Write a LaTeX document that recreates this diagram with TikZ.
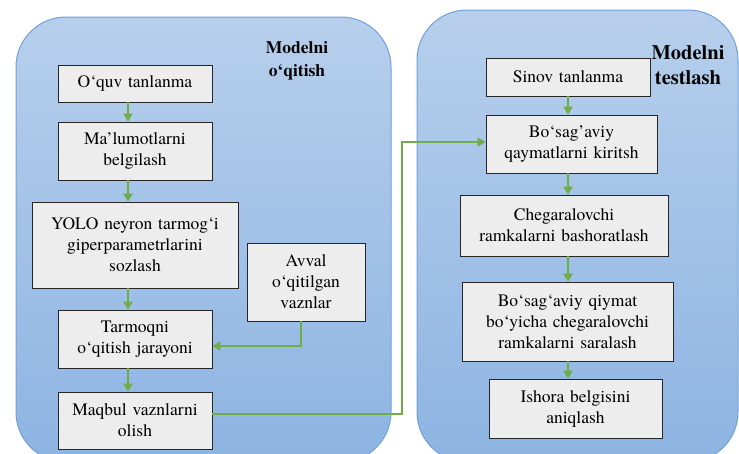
\documentclass[tikz,border=0pt]{standalone}
\usepackage{fontspec}
\setmainfont{TeX Gyre Termes}
\usetikzlibrary{arrows.meta}

\definecolor{panelTop}{RGB}{183,207,236}
\definecolor{panelBot}{RGB}{141,180,226}
\definecolor{panelLine}{RGB}{112,160,219}
\definecolor{flowGreen}{RGB}{112,173,71}
\definecolor{boxFill}{RGB}{237,237,237}

\begin{document}
\begin{tikzpicture}[x=1pt,y=-1pt,
    panel/.style={draw=panelLine, line width=1pt, rounded corners=50pt, top color=panelTop, bottom color=panelBot},
    box/.style={draw=black!85, fill=boxFill, line width=0.8pt, align=center, inner sep=0pt, font=\fontsize{17.5}{21}\selectfont},
    title/.style={align=center, font=\fontsize{17.5}{22.5}\selectfont\bfseries},
    flow/.style={draw=flowGreen, line width=2pt, -{Triangle[length=8pt,width=9pt]}}]

    % Fix the page size
    \useasboundingbox (0,0) rectangle (739,453);

    % Draw the two rounded background panels
    \path[panel] (16,17) rectangle (391,462);
    \path[panel] (417,10) rectangle (738,462);

    % Add panel titles
    \node[title] (titleTrain) at (297,61) {Modelni\\o‘qitish};
    \node[title, font=\fontsize{20.5}{25}\selectfont\bfseries] (titleTest) at (688,65.5) {Modelni\\testlash};

    % Boxes of the training panel
    \node[box, minimum width=154, minimum height=37, text width=146] (quv) at (135,83.5) {O‘quv tanlanma};
    \node[box, minimum width=154, minimum height=58, text width=146] (belgi) at (135,151) {Ma’lumotlarni\\belgilash};
    \node[box, minimum width=206, minimum height=86, text width=198] (yolo) at (135,245) {YOLO neyron tarmog‘i\\giperparametrlarini\\sozlash};
    \node[box, minimum width=118, minimum height=78, text width=110] (avval) at (306,282) {Avval\\o‘qitilgan\\vaznlar};
    \node[box, minimum width=154, minimum height=58, text width=146] (tarmoq) at (135,339) {Tarmoqni\\o‘qitish jarayoni};
    \node[box, minimum width=154, minimum height=57, text width=146] (maqbul) at (135,420.5) {Maqbul vaznlarni\\olish};

    % Boxes of the testing panel
    \node[box, minimum width=164, minimum height=38, text width=156] (sinov) at (568,77) {Sinov tanlanma};
    \node[box, minimum width=171, minimum height=58, text width=163] (kirit) at (571.5,144) {Bo‘sag’aviy\\qaymatlarni kiritsh};
    \node[box, minimum width=208, minimum height=61, text width=200] (bashorat) at (564,225.5) {Chegaralovchi\\ramkalarni bashoratlash};
    \node[box, minimum width=211, minimum height=79, text width=203] (saralash) at (567.5,321.5) {Bo‘sag‘aviy qiymat\\bo‘yicha chegaralovchi\\ramkalarni saralash};
    \node[box, minimum width=173, minimum height=59, text width=165] (ishora) at (575.5,408.5) {Ishora belgisini\\aniqlash};

    % Arrows inside the training panel
    \draw[flow] ([xshift=-7pt]quv.south) -- ([xshift=-7pt]belgi.north);
    \draw[flow] ([xshift=-7pt]belgi.south) -- ([xshift=-7pt]yolo.north);
    \draw[flow] ([xshift=-7pt]yolo.south) -- ([xshift=-7pt]tarmoq.north);
    \draw[flow] ([xshift=-7pt]tarmoq.south) -- ([xshift=-7pt]maqbul.north);

    % Pretrained weights go into training
    \coordinate (bendW) at (301,346);
    \draw[flow] (avval.south -| bendW) -- (bendW) -- (bendW -| tarmoq.east);

    % Arrows inside the testing panel
    \draw[flow] (sinov.south) -- (sinov.south |- kirit.north);
    \draw[flow] (sinov.south |- kirit.south) -- (sinov.south |- bashorat.north);
    \draw[flow] (sinov.south |- bashorat.south) -- (sinov.south |- saralash.north);
    \draw[flow] (sinov.south |- saralash.south) -- (sinov.south |- ishora.north);

    % Best weights passed over to testing
    \coordinate (linkLow) at (402,414);
    \coordinate (linkHigh) at (402,142);
    \draw[flow] (maqbul.east |- linkLow) -- (linkLow) -- (linkHigh) -- (linkHigh -| kirit.west);

\end{tikzpicture}
\end{document}
